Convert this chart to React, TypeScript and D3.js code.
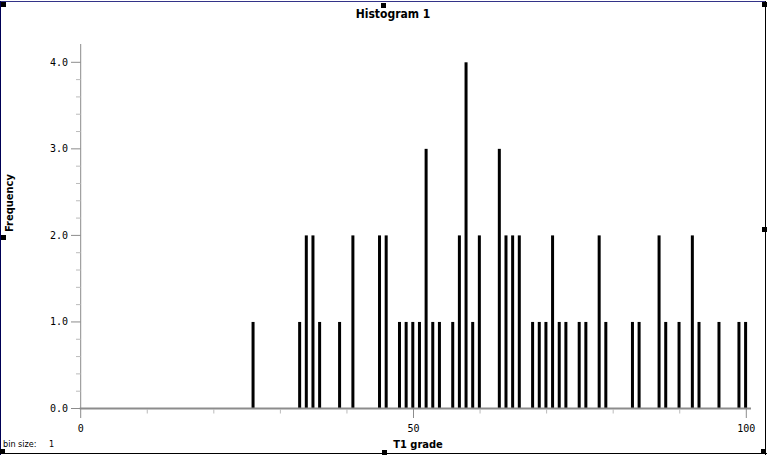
import React from "react";
import * as d3 from "d3";

const grades = [26, 33, 34, 35, 36, 39, 41, 45, 46, 48, 49, 50, 51, 52, 53, 54, 56, 57, 58, 59, 60, 63, 64, 65, 66, 68, 69, 70, 71, 72, 73, 75, 76, 78, 79, 83, 84, 87, 88, 90, 92, 93, 96, 99, 100];
const counts = [1, 1, 2, 2, 1, 1, 2, 2, 2, 1, 1, 1, 1, 3, 1, 1, 1, 2, 4, 1, 2, 3, 2, 2, 2, 1, 1, 1, 2, 1, 1, 1, 1, 2, 1, 1, 1, 2, 1, 1, 2, 1, 1, 1, 1];
const xMajorTicks = [0, 50, 100];
const xMinorTicks = [10, 20, 30, 40, 60, 70, 80, 90];
const yMajorTicks = [0, 1, 2, 3, 4];
const yMinorTicks = [0.2, 0.4, 0.6, 0.8, 1.2, 1.4, 1.6, 1.8, 2.2, 2.4, 2.6, 2.8, 3.2, 3.4, 3.6, 3.8];

const W = 767;
const H = 455;

export default function App() {
  const x = d3.scaleLinear().domain([0, 100]).range([80.7, 746.3]);
  const y = d3.scaleLinear().domain([0, 4]).range([408.5, 62.3]);
  const axisColor = "#8c8c8c";
  const mono = "'DejaVu Sans Mono', monospace";
  const cond = "'DejaVu Sans Condensed', 'DejaVu Sans', sans-serif";
  const handles: [number, number][] = [
    [1, 2], [381, 3], [762, 2],
    [1, 235], [762, 227],
    [0, 449], [382, 450], [761, 449],
  ];
  return (
    <svg width={W} height={H} style={{ position: "absolute", left: 0, top: 0, background: "#fff" }}>
      <rect x={0} y={0} width={W} height={H} fill="#fff" />
      {/* frame */}
      <line x1={0.5} y1={1.5} x2={766} y2={1.5} stroke="#333388" strokeWidth={1} />
      <line x1={0.5} y1={1} x2={0.5} y2={455} stroke="#000055" strokeWidth={1} />
      <line x1={765.5} y1={1} x2={765.5} y2={455} stroke="#000" strokeWidth={1} />
      <line x1={0} y1={453.5} x2={767} y2={453.5} stroke="#000" strokeWidth={1} />
      {handles.map(([hx, hy], i) => (
        <rect key={"h" + i} x={hx} y={hy} width={5} height={5} fill="#000" />
      ))}
      {/* title */}
      <text x={393} y={18} textAnchor="middle" fontFamily={cond} fontWeight="bold" fontSize={12} fill="#000">
        Histogram 1
      </text>
      {/* y axis */}
      <line x1={x(0)} y1={44} x2={x(0)} y2={y(0)} stroke={axisColor} strokeWidth={1} />
      {yMajorTicks.map((t) => (
        <g key={"ym" + t}>
          <line x1={71} x2={x(0)} y1={y(t)} y2={y(t)} stroke={axisColor} strokeWidth={1} />
          <text x={68} y={y(t) + 3.5} textAnchor="end" fontFamily={mono} fontSize={10} fill="#000">
            {t.toFixed(1)}
          </text>
        </g>
      ))}
      {yMinorTicks.map((t) => (
        <line key={"yn" + t} x1={76} x2={x(0)} y1={y(t)} y2={y(t)} stroke="#bbb" strokeWidth={1} />
      ))}
      <text
        transform={`translate(13, 203) rotate(-90)`}
        textAnchor="middle"
        fontFamily={cond}
        fontWeight="bold"
        fontSize={11}
        fill="#000"
      >
        Frequency
      </text>
      {/* bars */}
      {grades.map((g, i) => (
        <rect key={"b" + g} x={x(g) - 2.2} y={y(counts[i])} width={3} height={y(0) - y(counts[i])} fill="#000" />
      ))}
      {/* x axis */}
      <line x1={x(0) - 1} x2={751} y1={408.5} y2={408.5} stroke={axisColor} strokeWidth={2} />
      {xMajorTicks.map((t) => (
        <g key={"xm" + t}>
          <line x1={x(t)} x2={x(t)} y1={408} y2={418} stroke={axisColor} strokeWidth={1} />
          <text x={x(t)} y={432} textAnchor="middle" fontFamily={mono} fontSize={10} fill="#000">
            {t}
          </text>
        </g>
      ))}
      {xMinorTicks.map((t) => (
        <line key={"xn" + t} x1={x(t)} x2={x(t)} y1={409} y2={413.5} stroke="#bbb" strokeWidth={1} />
      ))}
      <text x={418} y={448} textAnchor="middle" fontFamily={cond} fontWeight="bold" fontSize={11} fill="#000">
        T1 grade
      </text>
      <text x={3} y={447} fontFamily={cond} fontSize={9} fill="#000">
        bin size:
      </text>
      <text x={49} y={447} fontFamily={cond} fontSize={9} fill="#000">
        1
      </text>
    </svg>
  );
}
